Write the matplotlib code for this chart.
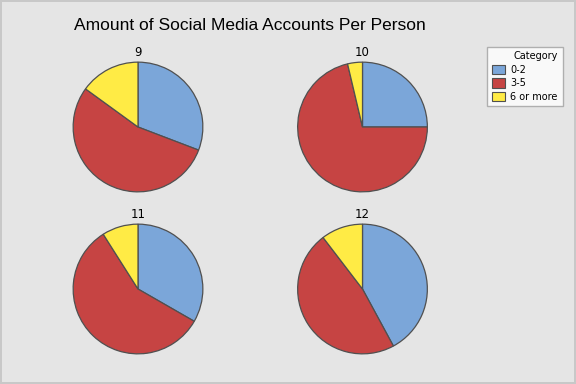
import matplotlib.pyplot as plt
from matplotlib.patches import Patch

# data (fractions of each pie)
groups = ["9", "10", "11", "12"]
categories = ["0-2", "3-5", "6 or more"]
share_0_2 = [0.308, 0.250, 0.333, 0.421]
share_3_5 = [0.542, 0.713, 0.577, 0.475]
share_6_up = [0.150, 0.037, 0.090, 0.104]

colors = ["#7BA6D9", "#C64443", "#FFEB45"]
bg = "#E5E5E5"

W, H = 576, 384
fig = plt.figure(figsize=(5.76, 3.84), dpi=100, facecolor=bg)
fig.patch.set_edgecolor("#C8C8C8")
fig.patch.set_linewidth(1.5)

# pie centres in pixels
centres = [(138, 127), (362.5, 127), (138, 289), (362.5, 289)]
r = 65.5

for i, g in enumerate(groups):
    cx, cy = centres[i]
    ax = fig.add_axes([(cx - r) / W, 1 - (cy + r) / H, 2 * r / W, 2 * r / H])
    vals = [share_0_2[i], share_3_5[i], share_6_up[i]]
    ax.pie(vals, colors=colors, startangle=90, counterclock=False,
           wedgeprops=dict(edgecolor="#505050", linewidth=0.9))
    ax.set_xlim(-1.01, 1.01)
    ax.set_ylim(-1.01, 1.01)
    ax.set_aspect("auto")
    ax.set_facecolor("none")
    fig.text(cx / W, 1 - 53 / H if i < 2 else 1 - 215 / H, g,
             ha="center", va="center", fontsize=8.5)

fig.text(250 / W, 1 - 25 / H, "Amount of Social Media Accounts Per Person",
         ha="center", va="center", fontsize=12.5, family="Liberation Sans")

handles = [Patch(facecolor=c, edgecolor="#505050", linewidth=0.8) for c in colors]
leg = fig.legend(handles, categories, title="Category",
                 loc="upper left", bbox_to_anchor=(487 / W, 1 - 46.5 / H),
                 fontsize=7, title_fontsize=7, frameon=True, fancybox=False,
                 borderpad=0.5, labelspacing=0.35, handlelength=1.4,
                 handleheight=1.1, handletextpad=0.5, borderaxespad=0,
                 alignment="right")
leg.get_frame().set_edgecolor("#A0A0A0")
leg.get_frame().set_linewidth(1)
leg.get_frame().set_facecolor("white")

fig.savefig("out.png", dpi=100, facecolor=bg, edgecolor=fig.get_edgecolor())
